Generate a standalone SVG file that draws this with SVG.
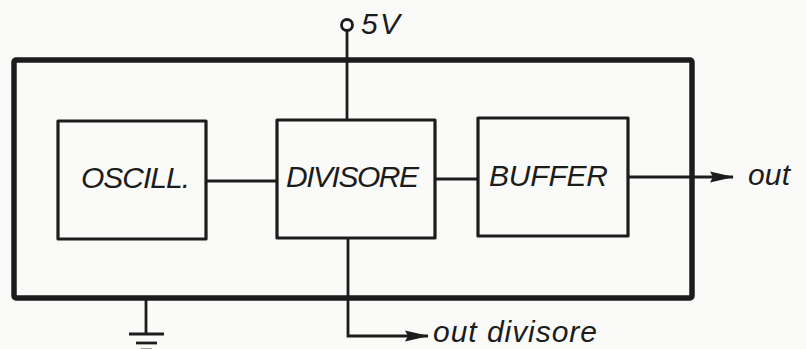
<svg xmlns="http://www.w3.org/2000/svg" width="806" height="349" viewBox="0 0 806 349">
<style>
.box{fill:none;stroke:#1c1c1c;stroke-width:3.2;stroke-linejoin:round}
.frame{fill:none;stroke:#1c1c1c;stroke-width:5.5;stroke-linejoin:round}
.wire{fill:none;stroke:#1c1c1c;stroke-width:2.8}
.lbl{font-family:"Liberation Sans",Arial,sans-serif;font-style:italic;font-size:30px;fill:#1c1c1c}
</style>
<defs>
<marker id="arr" viewBox="0 0 24 12" refX="23" refY="6" markerWidth="24" markerHeight="12" markerUnits="userSpaceOnUse" orient="auto">
<path d="M0,0.5 L24,6 L0,11.5 L3,6 Z" fill="#1c1c1c"/>
</marker>
</defs>
<rect width="806" height="349" fill="#fafaf8"/>
<g id="frame">
<rect class="frame" x="14" y="60" width="678" height="238" rx="2"/>
</g>
<g id="oscill">
<rect class="box" x="58" y="121" width="148" height="118"/>
<text class="lbl" x="81" y="188" textLength="109" lengthAdjust="spacing">OSCILL.</text>
</g>
<g id="divisore">
<rect class="box" x="277" y="120" width="158" height="118"/>
<text class="lbl" x="286" y="187" textLength="133" lengthAdjust="spacing">DIVISORE</text>
</g>
<g id="buffer">
<rect class="box" x="478" y="118" width="150" height="118"/>
<text class="lbl" x="489" y="186" textLength="119" lengthAdjust="spacing">BUFFER</text>
</g>
<g id="supply">
<circle cx="347" cy="25" r="5.5" fill="none" stroke="#1c1c1c" stroke-width="2.8"/>
<text class="lbl" x="361" y="34" textLength="39" lengthAdjust="spacing">5V</text>
</g>
<g id="ground">
<line class="wire" x1="146" y1="298" x2="146" y2="333"/>
<line class="wire" x1="129" y1="334" x2="164" y2="334" stroke-width="3.2"/>
<line class="wire" x1="136" y1="343" x2="157" y2="343" stroke-width="3.2"/>
<line class="wire" x1="141" y1="350" x2="152" y2="350" stroke-width="3.2"/>
</g>
<g id="connectors">
<line class="wire" x1="347" y1="30.5" x2="347" y2="120"/>
<line class="wire" x1="206" y1="181" x2="277" y2="181"/>
<line class="wire" x1="435" y1="179" x2="478" y2="179"/>
<line class="wire" x1="628" y1="177" x2="733" y2="177" marker-end="url(#arr)"/>
<polyline class="wire" points="348,238 348,336 428,336" marker-end="url(#arr)"/>
</g>
<g id="outputs">
<text class="lbl" x="748" y="185" textLength="42" lengthAdjust="spacing">out</text>
<text class="lbl" x="433" y="342" textLength="164" lengthAdjust="spacing">out divisore</text>
</g>
</svg>
